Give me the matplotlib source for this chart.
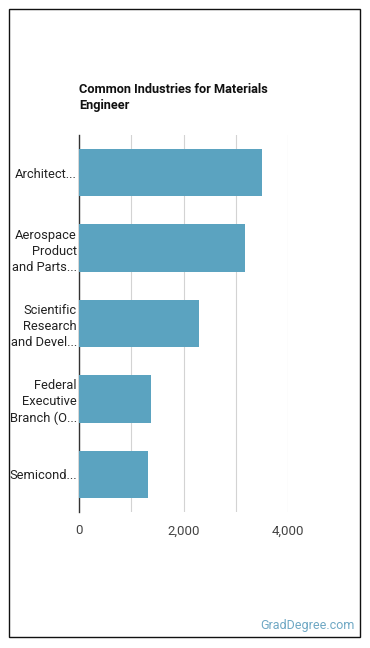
import matplotlib.pyplot as plt
from matplotlib.patches import Rectangle
from matplotlib.ticker import FuncFormatter

plt.rcParams['font.family'] = ['Roboto', 'DejaVu Sans']

industries = ['Architect...', 'Aerospace\nProduct\nand Parts...', 'Scientific\nResearch\nand Devel...',
              'Federal\nExecutive\nBranch (O...', 'Semicond...']
workers = [3500, 3170, 2290, 1380, 1320]
ticks = [0, 2000, 4000]

fig = plt.figure(figsize=(3.7, 6.48), dpi=100)
ax = fig.add_axes([79 / 370, 1 - 512 / 648, 209 / 370, 377 / 648])

pos = list(range(len(industries)))
ax.barh(pos, workers, height=0.63, color='#5ba3c0', zorder=3)
ax.set_ylim(len(industries) - 0.5, -0.5)
ax.set_xlim(0, 4000)
ax.set_yticks(pos)
ax.set_yticklabels(industries, fontsize=9.3, color='#222222', linespacing=1.3)
ax.set_xticks(ticks)
ax.xaxis.set_major_formatter(FuncFormatter(lambda v, p: f'{int(v):,}'))
ax.set_xticks([1000, 3000], minor=True)
ax.tick_params(axis='x', which='both', length=0, labelsize=9.5, labelcolor='#444444', pad=9)
ax.tick_params(axis='y', length=0, pad=1.5)
ax.grid(axis='x', which='both', color='#d3d3d3', linewidth=0.8, zorder=0)
for s in ['top', 'right', 'bottom']:
    ax.spines[s].set_visible(False)
ax.spines['left'].set_color('#333333')
ax.spines['left'].set_linewidth(1)

fig.text(79 / 370, 1 - 83 / 648, 'Common Industries for Materials\nEngineer', fontsize=9.2,
         fontweight='bold', color='#111111', va='top', ha='left', linespacing=1.35)
fig.text(355 / 370, 1 - 626 / 648, 'GradDegree.com', fontsize=9, color='#6fa8c4',
         ha='right', va='center')

fig.patches.append(Rectangle((8.5 / 370, 1 - 637 / 648), 351 / 370, 628 / 648,
                             transform=fig.transFigure, fill=False, edgecolor='#111111', linewidth=1))

fig.savefig('out.png', dpi=100)
